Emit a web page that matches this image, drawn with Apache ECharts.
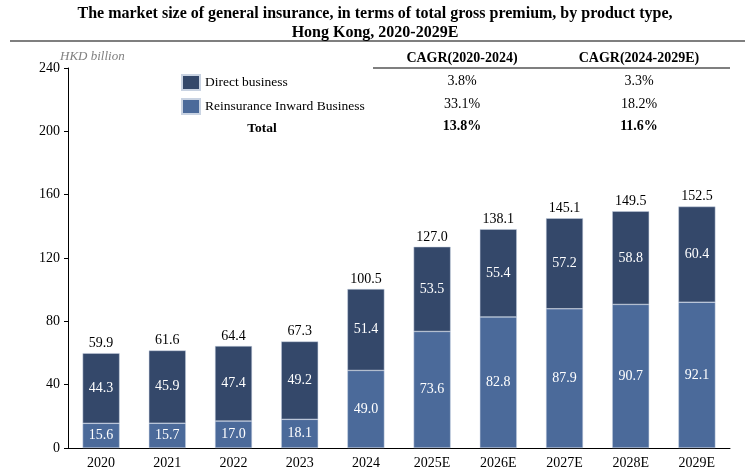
<!DOCTYPE html>
<html>
<head>
<meta charset="utf-8">
<script src="https://cdn.jsdelivr.net/npm/echarts@6/dist/echarts.min.js"></script>
<style>
  html, body { margin: 0; padding: 0; background: #fff; }
  #main { width: 750px; height: 470px; }
</style>
</head>
<body>
<div id="main"></div>
<script>
var years = ['2020', '2021', '2022', '2023', '2024', '2025E', '2026E', '2027E', '2028E', '2029E'];
var reinsurance = [15.6, 15.7, 17.0, 18.1, 49.0, 73.6, 82.8, 87.9, 90.7, 92.1];
var direct = [44.3, 45.9, 47.4, 49.2, 51.4, 53.5, 55.4, 57.2, 58.8, 60.4];
var totals = [59.9, 61.6, 64.4, 67.3, 100.5, 127.0, 138.1, 145.1, 149.5, 152.5];
var cagrHead = ['CAGR(2020-2024)', 'CAGR(2024-2029E)'];
var cagrDirect = ['3.8%', '3.3%'];
var cagrReins = ['33.1%', '18.2%'];
var cagrTotal = ['13.8%', '11.6%'];

var serif = '"Liberation Serif", "Times New Roman", serif';
var darkBlue = '#34486a';
var lightBlue = '#4b6a9a';

var chart = echarts.init(document.getElementById('main'));

function fmt(p) { return Number(p.value).toFixed(1); }

function txt(x, y, s, font) {
  return {
    type: 'text', x: x, y: y,
    style: { text: s, font: font, fill: '#000', textAlign: 'center', textVerticalAlign: 'middle' }
  };
}

// CAGR table at the top right
var tableCols = [462, 639];
var tableTexts = [];
for (var i = 0; i < 2; i++) {
  tableTexts.push(txt(tableCols[i], 58, cagrHead[i], 'bold 14px ' + serif));
  tableTexts.push(txt(tableCols[i], 81, cagrDirect[i], '14px ' + serif));
  tableTexts.push(txt(tableCols[i], 104, cagrReins[i], '14px ' + serif));
  tableTexts.push(txt(tableCols[i], 126, cagrTotal[i], 'bold 14px ' + serif));
}

var option = {
  animation: false,
  title: {
    text: 'The market size of general insurance, in terms of total gross premium, by product type,\nHong Kong, 2020-2029E',
    left: 'center',
    top: 4,
    padding: 0,
    textStyle: { fontFamily: serif, fontWeight: 'bold', fontSize: 16, lineHeight: 19, color: '#000' }
  },
  legend: {
    data: ['Direct business', 'Reinsurance Inward Business'],
    orient: 'vertical',
    left: 181,
    top: 74,
    padding: 0,
    itemWidth: 18,
    itemHeight: 15,
    itemGap: 7,
    icon: 'rect',
    textStyle: { fontFamily: serif, fontSize: 13.5, color: '#000' }
  },
  graphic: [
    { type: 'line', shape: { x1: 10, y1: 41, x2: 745, y2: 41 }, style: { stroke: '#000', lineWidth: 1.2 } },
    { type: 'line', shape: { x1: 373, y1: 68, x2: 730, y2: 68 }, style: { stroke: '#000', lineWidth: 1.2 } },
    { type: 'text', x: 60, y: 57, style: { text: 'HKD billion', font: 'italic 13px ' + serif, fill: '#808080', textVerticalAlign: 'middle' } },
    txt(262, 129, 'Total', 'bold 13.5px ' + serif)
  ].concat(tableTexts),
  grid: { left: 68, right: 20, top: 68, bottom: 21, containLabel: false },
  xAxis: {
    type: 'category',
    data: years,
    axisLine: { lineStyle: { color: '#000' } },
    axisTick: { show: false },
    axisLabel: { fontFamily: serif, fontSize: 14, color: '#000', margin: 8 }
  },
  yAxis: {
    type: 'value',
    min: 0,
    max: 240,
    interval: 40,
    splitLine: { show: false },
    axisLine: { show: true, lineStyle: { color: '#000' } },
    axisTick: { show: true, length: 4, lineStyle: { color: '#000' } },
    axisLabel: { fontFamily: serif, fontSize: 14, color: '#000', margin: 8 }
  },
  series: [
    {
      name: 'Reinsurance Inward Business',
      type: 'bar',
      stack: 'gp',
      barWidth: 37,
      data: reinsurance,
      itemStyle: { color: lightBlue, borderColor: '#c9d3e2', borderWidth: 0.5 },
      label: { show: true, position: 'inside', formatter: fmt, fontFamily: serif, fontSize: 14, color: '#fff' }
    },
    {
      name: 'Direct business',
      type: 'bar',
      stack: 'gp',
      barWidth: 37,
      data: direct,
      itemStyle: { color: darkBlue, borderColor: '#c9d3e2', borderWidth: 0.5 },
      label: { show: true, position: 'inside', formatter: fmt, fontFamily: serif, fontSize: 14, color: '#fff' }
    },
    {
      name: 'Total',
      type: 'bar',
      barWidth: 37,
      barGap: '-100%',
      data: totals,
      silent: true,
      z: 1,
      itemStyle: { color: 'rgba(0,0,0,0)' },
      label: { show: true, position: 'top', distance: 3, formatter: fmt, fontFamily: serif, fontSize: 14, color: '#000' }
    }
  ]
};

chart.setOption(option);
</script>
</body>
</html>
